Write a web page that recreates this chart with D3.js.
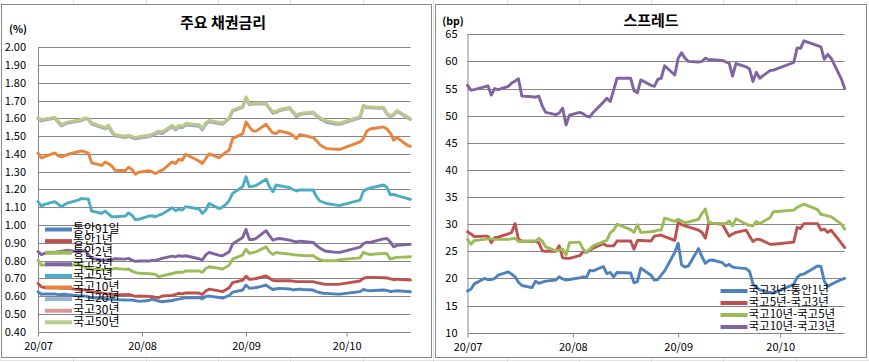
<!DOCTYPE html>
<html>
<head>
<meta charset="utf-8">
<script src="https://cdn.jsdelivr.net/npm/d3@7"></script>
<style>
  body { margin: 0; background: #fff; }
  svg { display: block; font-family: "Noto Sans CJK KR", "Noto Sans", sans-serif; }
</style>
</head>
<body>
<svg id="chart" width="869" height="362"></svg>
<script>
// business days, 2020-07-01 .. 2020-10-20
var dates = [
  '2020-07-01','2020-07-02','2020-07-03','2020-07-06','2020-07-07','2020-07-08','2020-07-09','2020-07-10',
  '2020-07-13','2020-07-14','2020-07-15','2020-07-16','2020-07-17','2020-07-20','2020-07-21','2020-07-22',
  '2020-07-23','2020-07-24','2020-07-27','2020-07-28','2020-07-29','2020-07-30','2020-07-31',
  '2020-08-03','2020-08-04','2020-08-05','2020-08-06','2020-08-07','2020-08-10','2020-08-11','2020-08-12',
  '2020-08-13','2020-08-14','2020-08-18','2020-08-19','2020-08-20','2020-08-21','2020-08-24','2020-08-25',
  '2020-08-26','2020-08-27','2020-08-28','2020-08-31',
  '2020-09-01','2020-09-02','2020-09-03','2020-09-04','2020-09-07','2020-09-08','2020-09-09','2020-09-10',
  '2020-09-11','2020-09-14','2020-09-15','2020-09-16','2020-09-17','2020-09-18','2020-09-21','2020-09-22',
  '2020-09-23','2020-09-24','2020-09-25','2020-09-28','2020-09-29',
  '2020-10-05','2020-10-06','2020-10-07','2020-10-08','2020-10-12','2020-10-13','2020-10-14','2020-10-15',
  '2020-10-16','2020-10-19','2020-10-20'
];
var monthTicks = ['2020-07-01', '2020-08-01', '2020-09-01', '2020-10-01'];

// 주요 채권금리 (%)
var msb91d = [0.624,0.610,0.612,0.612,0.608,0.609,0.610,0.607,0.602,0.600,
  0.600,0.596,0.590,0.588,0.585,0.583,0.582,0.580,0.578,0.577,
  0.578,0.574,0.570,0.575,0.583,0.577,0.572,0.568,0.575,0.580,
  0.583,0.587,0.590,0.592,0.584,0.598,0.600,0.592,0.588,0.595,
  0.603,0.622,0.634,0.662,0.644,0.645,0.648,0.662,0.648,0.637,
  0.641,0.643,0.640,0.635,0.637,0.639,0.637,0.634,0.625,0.620,
  0.616,0.615,0.611,0.611,0.625,0.637,0.632,0.630,0.634,0.632,
  0.625,0.628,0.630,0.626,0.624];
var msb1y = [0.671,0.652,0.648,0.646,0.646,0.643,0.644,0.643,0.636,0.633,
  0.636,0.628,0.624,0.618,0.614,0.612,0.610,0.608,0.607,0.610,
  0.604,0.598,0.600,0.598,0.596,0.593,0.592,0.600,0.604,0.609,
  0.615,0.612,0.618,0.617,0.609,0.628,0.639,0.629,0.625,0.635,
  0.647,0.676,0.689,0.712,0.694,0.696,0.699,0.713,0.700,0.688,
  0.686,0.686,0.686,0.684,0.682,0.681,0.681,0.681,0.676,0.672,
  0.668,0.666,0.666,0.667,0.685,0.700,0.705,0.705,0.703,0.702,
  0.697,0.692,0.695,0.691,0.690];
var msb2y = [0.802,0.774,0.776,0.778,0.780,0.778,0.776,0.774,0.776,0.774,
  0.762,0.755,0.752,0.750,0.750,0.751,0.752,0.756,0.750,0.752,
  0.740,0.733,0.728,0.726,0.724,0.722,0.709,0.714,0.727,0.731,
  0.735,0.733,0.741,0.741,0.733,0.755,0.765,0.756,0.752,0.762,
  0.774,0.808,0.831,0.864,0.840,0.845,0.849,0.877,0.850,0.834,
  0.846,0.842,0.836,0.833,0.831,0.829,0.828,0.827,0.815,0.805,
  0.800,0.799,0.800,0.805,0.815,0.846,0.838,0.834,0.840,0.838,
  0.808,0.814,0.818,0.820,0.821];
var ktb3y = [0.850,0.833,0.840,0.846,0.850,0.852,0.855,0.857,0.848,0.852,
  0.856,0.835,0.812,0.803,0.802,0.804,0.806,0.810,0.808,0.812,
  0.802,0.795,0.797,0.797,0.800,0.802,0.806,0.812,0.825,0.821,
  0.827,0.824,0.827,0.810,0.803,0.832,0.846,0.829,0.827,0.838,
  0.849,0.893,0.930,0.975,0.918,0.918,0.925,0.968,0.940,0.915,
  0.921,0.924,0.915,0.909,0.905,0.909,0.907,0.902,0.885,0.870,
  0.859,0.852,0.846,0.846,0.875,0.895,0.903,0.902,0.922,0.924,
  0.905,0.877,0.885,0.890,0.891];
var ktb5y = [1.132,1.108,1.116,1.131,1.118,1.103,1.116,1.125,1.140,1.149,
  1.147,1.146,1.078,1.066,1.078,1.062,1.046,1.046,1.050,1.068,
  1.055,1.030,1.032,1.050,1.052,1.046,1.055,1.061,1.097,1.080,
  1.089,1.084,1.103,1.090,1.065,1.084,1.121,1.092,1.100,1.116,
  1.138,1.178,1.215,1.271,1.215,1.218,1.222,1.258,1.215,1.187,
  1.225,1.221,1.210,1.200,1.191,1.197,1.197,1.197,1.160,1.135,
  1.128,1.121,1.112,1.110,1.140,1.190,1.202,1.208,1.225,1.212,
  1.170,1.172,1.165,1.150,1.144];
var ktb10y = [1.405,1.378,1.385,1.406,1.390,1.383,1.390,1.398,1.412,1.417,
  1.411,1.405,1.350,1.335,1.355,1.345,1.332,1.308,1.305,1.325,
  1.312,1.286,1.297,1.305,1.300,1.290,1.300,1.308,1.355,1.346,
  1.370,1.364,1.398,1.360,1.346,1.374,1.400,1.379,1.395,1.410,
  1.421,1.486,1.514,1.580,1.552,1.530,1.528,1.567,1.540,1.518,
  1.514,1.530,1.515,1.505,1.486,1.509,1.505,1.492,1.475,1.452,
  1.440,1.430,1.426,1.426,1.468,1.486,1.529,1.540,1.552,1.540,
  1.518,1.477,1.492,1.450,1.443];
var ktb20y = [1.598,1.585,1.590,1.600,1.578,1.557,1.566,1.574,1.583,1.588,
  1.597,1.594,1.568,1.548,1.540,1.553,1.522,1.500,1.492,1.497,
  1.490,1.484,1.488,1.496,1.503,1.511,1.518,1.514,1.552,1.534,
  1.552,1.547,1.562,1.556,1.535,1.566,1.581,1.570,1.566,1.583,
  1.597,1.640,1.662,1.712,1.677,1.680,1.681,1.682,1.653,1.628,
  1.633,1.644,1.655,1.633,1.610,1.620,1.624,1.630,1.613,1.597,
  1.587,1.577,1.567,1.566,1.603,1.668,1.660,1.659,1.656,1.624,
  1.608,1.618,1.640,1.604,1.594];
var ktb30y = [1.601,1.590,1.594,1.603,1.582,1.562,1.570,1.577,1.587,1.592,
  1.600,1.597,1.572,1.552,1.545,1.558,1.527,1.505,1.497,1.502,
  1.496,1.489,1.494,1.502,1.509,1.517,1.525,1.521,1.558,1.540,
  1.558,1.553,1.568,1.562,1.540,1.572,1.586,1.575,1.571,1.587,
  1.601,1.643,1.665,1.718,1.680,1.682,1.683,1.684,1.657,1.633,
  1.637,1.647,1.658,1.637,1.615,1.624,1.627,1.633,1.617,1.602,
  1.592,1.583,1.573,1.571,1.607,1.671,1.662,1.661,1.658,1.627,
  1.612,1.622,1.642,1.607,1.596];
var ktb50y = [1.604,1.593,1.597,1.606,1.585,1.565,1.573,1.580,1.590,1.595,
  1.603,1.600,1.575,1.555,1.548,1.561,1.530,1.508,1.500,1.505,
  1.499,1.492,1.497,1.505,1.512,1.520,1.528,1.524,1.561,1.543,
  1.561,1.556,1.571,1.565,1.543,1.575,1.589,1.578,1.574,1.590,
  1.604,1.646,1.668,1.721,1.683,1.685,1.686,1.687,1.660,1.636,
  1.640,1.650,1.661,1.640,1.618,1.627,1.630,1.636,1.620,1.605,
  1.595,1.586,1.576,1.574,1.610,1.674,1.665,1.664,1.661,1.630,
  1.615,1.625,1.645,1.610,1.599];

// 스프레드 (bp)
var spr3y1y = [17.7,18.0,19.0,20.0,19.8,19.8,20.0,20.6,21.2,20.8,
  20.3,19.3,18.7,18.3,19.5,19.1,19.3,19.5,19.7,20.3,
  19.9,19.7,19.8,20.1,20.3,20.2,21.5,21.4,22.2,20.9,
  21.1,20.3,21.1,21.0,19.2,19.4,21.9,20.6,19.7,19.8,
  20.6,21.4,24.8,26.5,22.5,22.1,22.3,25.5,24.0,22.8,
  23.3,23.4,22.9,22.3,22.6,22.1,22.0,21.8,21.3,19.0,
  18.3,17.9,17.4,17.3,18.9,20.2,20.7,20.8,22.3,22.2,
  19.5,18.5,18.9,19.8,20.0];
var spr5y3y = [28.6,28.2,27.7,27.8,27.8,26.6,27.5,27.6,28.2,28.5,
  30.1,27.2,26.9,26.8,26.8,26.6,25.1,25.0,25.0,26.0,
  23.8,23.7,23.7,24.2,24.9,24.8,25.2,25.6,26.4,26.0,
  26.0,26.0,26.9,26.9,25.4,27.0,27.0,26.9,27.8,27.9,
  28.0,27.7,27.0,30.3,29.9,29.7,29.5,28.9,28.5,27.4,
  30.3,30.2,30.0,28.9,27.8,28.2,28.5,28.9,27.8,26.8,
  27.2,27.2,26.3,26.3,26.7,29.4,29.2,30.1,30.1,28.9,
  29.1,28.5,28.9,26.5,25.7];
var spr10y5y = [27.2,26.3,27.0,27.2,27.3,27.3,27.2,27.2,27.2,27.3,
  27.4,26.8,26.8,26.9,26.9,27.4,26.9,25.8,25.1,25.2,
  25.4,24.3,26.6,26.7,25.4,24.8,25.4,26.0,26.8,27.0,
  28.4,28.9,30.0,29.0,28.5,29.9,28.5,28.6,28.7,28.9,
  28.9,31.1,30.5,30.9,30.6,30.3,30.4,30.9,32.0,32.8,
  30.3,30.2,30.1,30.1,30.6,29.7,31.0,30.0,29.8,29.7,
  30.5,30.1,31.2,32.3,32.6,33.1,33.4,33.7,32.7,31.8,
  31.7,31.5,31.4,30.0,29.1];
var spr10y3y = [55.6,54.7,54.8,55.3,55.5,53.8,55.0,54.8,55.4,56.0,
  56.4,56.8,53.6,53.5,53.4,53.6,51.8,50.6,50.2,50.5,
  51.4,48.3,50.1,50.6,50.4,49.9,49.8,50.6,52.5,53.2,
  52.6,54.7,56.9,56.9,54.6,54.2,56.6,55.6,55.4,56.7,
  56.9,59.2,57.5,60.6,61.6,60.6,60.0,59.9,60.0,60.6,
  60.3,60.3,60.2,59.9,59.7,57.3,59.6,59.0,58.6,56.3,
  58.0,56.9,58.3,58.4,59.8,62.5,62.4,63.8,62.9,62.7,
  60.4,61.3,60.6,56.8,55.0];

var rateNames = ['통안91일', '통안1년', '통안2년', '국고3년', '국고5년', '국고10년', '국고20년', '국고30년', '국고50년'];
var rateValues = [msb91d, msb1y, msb2y, ktb3y, ktb5y, ktb10y, ktb20y, ktb30y, ktb50y];
var rateColors = ['#4F81BD', '#C0504D', '#9BBB59', '#8064A2', '#4BACC6', '#E8843C', '#95B3D7', '#D99694', '#B5CC8A'];
var rateTicks = [0.4, 0.5, 0.6, 0.7, 0.8, 0.9, 1.0, 1.1, 1.2, 1.3, 1.4, 1.5, 1.6, 1.7, 1.8, 1.9, 2.0];

var sprNames = ['국고3년-통안1년', '국고5년-국고3년', '국고10년-국고5년', '국고10년-국고3년'];
var sprValues = [spr3y1y, spr5y3y, spr10y5y, spr10y3y];
var sprColors = ['#4F81BD', '#C0504D', '#9BBB59', '#8064A2'];
var sprTicks = [10, 15, 20, 25, 30, 35, 40, 45, 50, 55, 60, 65];

var parse = d3.timeParse('%Y-%m-%d');
var days = dates.map(parse);
var svg = d3.select('#chart');

// faint spreadsheet cells behind the charts
var sheet = svg.append('g').attr('stroke', '#e2e3e4').attr('stroke-width', 1);
[73, 146, 218, 290, 363, 433, 507, 579, 651, 723, 796].forEach(function(x) {
  sheet.append('line').attr('x1', x + 0.5).attr('x2', x + 0.5).attr('y1', 0).attr('y2', 362);
});
sheet.append('line').attr('x1', 0).attr('x2', 869).attr('y1', 360.5).attr('y2', 360.5);

function drawChart(cfg) {
  var g = svg.append('g');

  g.append('rect')
    .attr('x', cfg.frame[0] + 0.5).attr('y', cfg.frame[1] + 0.5)
    .attr('width', cfg.frame[2] - cfg.frame[0]).attr('height', cfg.frame[3] - cfg.frame[1])
    .attr('fill', '#fff').attr('stroke', '#8a8a8a');

  var x = d3.scaleTime()
    .domain([parse('2020-07-01'), parse('2020-10-20')])
    .range([cfg.left, cfg.right]);
  var y = d3.scaleLinear().domain(cfg.domain).range([cfg.bottom, cfg.top]);

  // gridlines + y labels
  var yAxis = d3.axisLeft(y).tickValues(cfg.ticks).tickSize(0).tickPadding(cfg.labelPad)
    .tickFormat(cfg.fmt);
  var ya = g.append('g').attr('transform', 'translate(' + cfg.left + ',0)').call(yAxis);
  ya.select('.domain').remove();
  ya.selectAll('text').attr('font-size', 11).attr('fill', '#000')
    .attr('font-family', '"Noto Sans CJK KR", sans-serif');

  g.append('g').selectAll('line').data(cfg.ticks).join('line')
    .attr('x1', cfg.left).attr('x2', cfg.right)
    .attr('y1', function(d) { return Math.round(y(d)) + 0.5; })
    .attr('y2', function(d) { return Math.round(y(d)) + 0.5; })
    .attr('stroke', '#868686');

  g.append('line')
    .attr('x1', cfg.left + 0.5).attr('x2', cfg.left + 0.5)
    .attr('y1', y(cfg.domain[1])).attr('y2', y(cfg.domain[0]))
    .attr('stroke', '#868686');

  // x axis: month ticks
  var xAxis = d3.axisBottom(x).tickValues(monthTicks.map(parse)).tickSize(4).tickPadding(6)
    .tickFormat(d3.timeFormat('%y/%m'));
  var xa = g.append('g').attr('transform', 'translate(0,' + (Math.round(y(cfg.domain[0])) + 0.5) + ')').call(xAxis);
  xa.select('.domain').remove();
  xa.selectAll('line').attr('stroke', '#868686');
  xa.selectAll('text').attr('font-size', 11).attr('fill', '#000')
    .attr('font-family', '"Noto Sans CJK KR", sans-serif');

  // series
  var line = d3.line()
    .x(function(d, i) { return x(days[i]); })
    .y(function(d) { return y(d); });

  cfg.values.forEach(function(vals, k) {
    g.append('path')
      .attr('d', line(vals))
      .attr('fill', 'none')
      .attr('stroke', cfg.colors[k])
      .attr('stroke-width', 2.9)
      .attr('stroke-linejoin', 'round')
      .attr('stroke-linecap', 'round');
  });

  // title and unit
  g.append('text').attr('x', cfg.titleX).attr('y', cfg.titleY)
    .attr('text-anchor', 'middle').attr('dominant-baseline', 'middle')
    .attr('font-size', 15).attr('font-weight', 700).text(cfg.title);
  g.append('text').attr('x', cfg.unitX).attr('y', cfg.unitY)
    .attr('text-anchor', 'middle').attr('dominant-baseline', 'middle')
    .attr('font-size', 10.5).attr('font-weight', 700).text(cfg.unit);

  // legend (rows overlap slightly, as in the original)
  var lg = g.append('g');
  cfg.names.forEach(function(name, k) {
    var ly = cfg.legend[2] + k * cfg.legend[3];
    lg.append('line')
      .attr('x1', cfg.legend[0]).attr('x2', cfg.legend[1])
      .attr('y1', ly).attr('y2', ly)
      .attr('stroke', cfg.colors[k]).attr('stroke-width', 4);
    lg.append('text')
      .attr('x', cfg.legend[1] + 1).attr('y', ly)
      .attr('dominant-baseline', 'middle')
      .attr('font-size', cfg.legendSize).attr('fill', '#000')
      .text(name);
  });
}

drawChart({
  frame: [1, 4, 431, 357],
  left: 38, right: 410.4, top: 47.3, bottom: 331.6,
  domain: [0.4, 2.0], ticks: rateTicks, fmt: d3.format('.2f'), labelPad: 12,
  values: rateValues, colors: rateColors, names: rateNames,
  title: '주요 채권금리', titleX: 223, titleY: 23.5,
  unit: '(%)', unitX: 18, unitY: 30,
  legend: [45, 72, 229.5, 11.6], legendSize: 12
});

drawChart({
  frame: [435, 4, 866, 357],
  left: 467.5, right: 844.7, top: 34.3, bottom: 332.7,
  domain: [10, 65], ticks: sprTicks, fmt: d3.format('d'), labelPad: 10,
  values: sprValues, colors: sprColors, names: sprNames,
  title: '스프레드', titleX: 651, titleY: 21.5,
  unit: '(bp)', unitX: 453, unitY: 22.5,
  legend: [720.5, 747.5, 291, 12], legendSize: 11.5
});
</script>
</body>
</html>
